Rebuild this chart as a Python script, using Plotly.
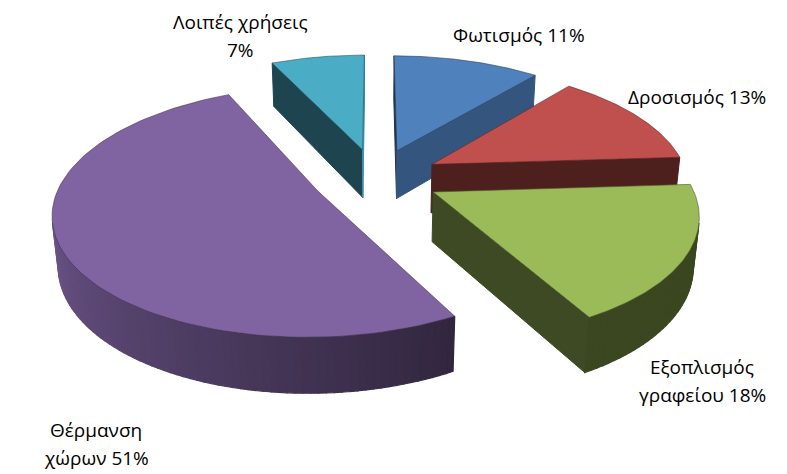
import numpy as np
import plotly.graph_objects as go

# data: energy use shares (%), clockwise from 12 o'clock
categories = ["Φωτισμός", "Δροσισμός", "Εξοπλισμός γραφείου", "Θέρμανση χώρων", "Λοιπές χρήσεις"]
shares = [11, 13, 18, 51, 7]
colors = ["#4F81BD", "#C0504D", "#9BBB59", "#8064A2", "#4BACC6"]

# fake 3d pie: simple perspective camera, pie radius = 1
X0, Y0 = 376, 177.5      # screen position of pie centre (px)
sin_a = 0.461            # camera tilt
cos_a = np.sqrt(1 - sin_a ** 2)
D, F = 5.55, 1420        # camera distance and focal length
H = 0.22                 # pie thickness
pull = 0.25              # explode

# label placement (px)
label_pos = [(519, 35), (697, 97), (702, 381), (96, 444), (240, 36)]
label_break = [None, None, 1, 1, 2]
line_gap = 28
page_margin = 8          # default body margin of the html page

cam = np.array([0, -D * cos_a, D * sin_a])


def proj(u, v, h):
    z = D + v * cos_a - h * sin_a
    return X0 + F * u / z, Y0 - F * (v * sin_a + h * cos_a) / z


def shade(hexcol, f):
    r, g, b = (int(hexcol[k:k + 2], 16) for k in (1, 3, 5))
    return "rgb(%d,%d,%d)" % (r * f, g * f, b * f)


def facing(n, p):
    return np.dot(n, cam - p) > 0


def poly(xs, ys, col, lw=1.0, lcol=None):
    return go.Scatter(x=list(xs), y=list(ys), mode="lines", fill="toself",
                      fillcolor=col, line=dict(color=lcol or col, width=lw),
                      hoverinfo="skip", showlegend=False)


total = float(sum(shares))
ends = np.cumsum(shares) / total * 2 * np.pi
starts = np.concatenate([[0], ends[:-1]])
mids = (starts + ends) / 2
cu = pull * np.sin(mids)
cv = pull * np.cos(mids)

traces = []
for i in np.argsort(-cv):
    t0, t1 = starts[i], ends[i]
    c = np.array([cu[i], cv[i], 0])
    ox, oy = proj(cu[i], cv[i], 0)
    bx, by = proj(cu[i], cv[i], -H)

    # radial side walls
    for t, nrm in [(t0, t0 - np.pi / 2), (t1, t1 + np.pi / 2)]:
        n = np.array([np.sin(nrm), np.cos(nrm), 0])
        if facing(n, c):
            eu, ev = cu[i] + np.sin(t), cv[i] + np.cos(t)
            x1, y1 = proj(eu, ev, 0)
            x2, y2 = proj(eu, ev, -H)
            f = 0.4 + 0.45 * max(0, np.sin(nrm)) ** 2
            traces.append(poly([ox, x1, x2, bx, ox], [oy, y1, y2, by, oy], shade(colors[i], f)))

    # curved outer wall in thin strips (gradient)
    n_strip = int(np.ceil(np.degrees(t1 - t0) / 1.5))
    edges = np.linspace(t0, t1, n_strip + 1)
    for k in range(n_strip):
        tm = (edges[k] + edges[k + 1]) / 2
        n = np.array([np.sin(tm), np.cos(tm), 0])
        if not facing(n, c + n):
            continue
        th = np.linspace(edges[k], edges[k + 1], 3)
        u, v = cu[i] + np.sin(th), cv[i] + np.cos(th)
        xt, yt = proj(u, v, 0)
        xb, yb = proj(u, v, -H)
        f = np.clip(0.38 + 0.45 * (np.degrees(tm) - 150) / 105, 0.38, 0.85)
        traces.append(poly(np.concatenate([xt, xb[::-1], xt[:1]]),
                           np.concatenate([yt, yb[::-1], yt[:1]]),
                           shade(colors[i], f), lw=1.2))

    # top face
    th = np.linspace(t0, t1, 100)
    xt, yt = proj(cu[i] + np.sin(th), cv[i] + np.cos(th), 0)
    traces.append(poly(np.concatenate([[ox], xt, [ox]]), np.concatenate([[oy], yt, [oy]]),
                       colors[i], lw=0.6, lcol=shade(colors[i], 0.5)))

fig = go.Figure(data=traces)

annotations = []
for i, name in enumerate(categories):
    words = (name + " %d%%" % round(shares[i] / total * 100)).split(" ")
    if label_break[i] is None:
        lines = [" ".join(words)]
    else:
        lines = [" ".join(words[:label_break[i]]), " ".join(words[label_break[i]:])]
    lx, ly = label_pos[i]
    for j, txt in enumerate(lines):
        annotations.append(dict(x=lx, y=ly + (j - (len(lines) - 1) / 2) * line_gap,
                                text=txt, showarrow=False, xanchor="center", yanchor="middle",
                                font=dict(size=19, color="black", family="Open Sans")))

fig.update_layout(
    width=787 - page_margin, height=474 - page_margin, autosize=False,
    margin=dict(l=0, r=0, t=0, b=0),
    paper_bgcolor="white", plot_bgcolor="white",
    showlegend=False,
    xaxis=dict(range=[page_margin, 787], visible=False, fixedrange=True),
    yaxis=dict(range=[474, page_margin], visible=False, fixedrange=True),
    annotations=annotations,
)
fig.write_html("out.html")
